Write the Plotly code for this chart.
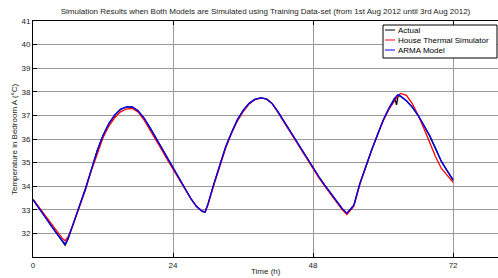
import plotly.graph_objects as go

hours = [0, 1, 2, 3, 4, 5, 5.5, 6, 7, 8, 9, 10, 11, 12, 13, 14, 15, 16, 17, 18, 19, 20,
         21, 22, 23, 24, 25, 26, 27, 28, 29, 29.5, 30, 31, 32, 33, 34, 35, 36, 37, 38, 39,
         40, 41, 42, 43, 44, 45, 46, 47, 48, 49, 50, 51, 52, 53, 53.8, 55, 56, 57, 58, 59,
         60, 61, 62, 62.3, 62.6, 63, 64, 65, 66, 67, 68, 69, 70, 71, 72]

actual = [33.43, 33.07, 32.72, 32.37, 32.02, 31.68, 31.50, 31.75, 32.45, 33.20, 33.90, 34.70,
          35.50, 36.15, 36.65, 37.00, 37.25, 37.35, 37.36, 37.20, 36.90, 36.50,
          36.08, 35.65, 35.20, 34.80, 34.35, 33.92, 33.50, 33.15, 32.93, 32.90, 33.25, 34.10,
          34.90, 35.65, 36.25, 36.80, 37.20, 37.50, 37.68, 37.74,
          37.70, 37.50, 37.15, 36.75, 36.35, 35.95, 35.55, 35.15, 34.75, 34.40, 34.05, 33.72,
          33.40, 33.05, 32.85, 33.20, 34.10, 34.85, 35.50, 36.15,
          36.78, 37.30, 37.75, 37.45, 37.85, 37.80, 37.62, 37.35, 37.00, 36.58, 36.12, 35.58,
          35.05, 34.65, 34.25]

simulator = [33.45, 33.12, 32.78, 32.45, 32.12, 31.80, 31.69, 31.85, 32.45, 33.15, 33.85, 34.65,
             35.40, 36.05, 36.55, 36.90, 37.15, 37.27, 37.30, 37.15, 36.82, 36.42,
             36.00, 35.57, 35.13, 34.72, 34.30, 33.88, 33.48, 33.15, 32.95, 32.92, 33.22, 34.05,
             34.85, 35.60, 36.22, 36.75, 37.15, 37.47, 37.66, 37.73,
             37.70, 37.50, 37.12, 36.72, 36.30, 35.90, 35.50, 35.10, 34.70, 34.35, 34.00, 33.65,
             33.32, 33.00, 32.80, 33.15, 34.05, 34.80, 35.50, 36.15,
             36.75, 37.25, 37.65, 37.75, 37.85, 37.93, 37.85, 37.50, 37.02, 36.45, 35.85, 35.25,
             34.75, 34.45, 34.16]

arma = [33.43, 33.06, 32.71, 32.36, 32.01, 31.68, 31.55, 31.78, 32.47, 33.20, 33.90, 34.70,
        35.50, 36.15, 36.65, 37.02, 37.27, 37.36, 37.36, 37.20, 36.90, 36.50,
        36.08, 35.65, 35.20, 34.80, 34.35, 33.92, 33.50, 33.15, 32.93, 32.91, 33.25, 34.10,
        34.90, 35.65, 36.25, 36.80, 37.20, 37.50, 37.68, 37.74,
        37.70, 37.50, 37.15, 36.75, 36.35, 35.95, 35.55, 35.15, 34.75, 34.40, 34.05, 33.72,
        33.40, 33.05, 32.86, 33.20, 34.10, 34.85, 35.50, 36.15,
        36.78, 37.30, 37.72, 37.82, 37.88, 37.82, 37.62, 37.35, 37.00, 36.60, 36.15, 35.62,
        35.05, 34.65, 34.28]

series_names = ["Actual", "House Thermal Simulator", "ARMA Model"]
series_colors = ["black", "#ff0000", "#0000ff"]

x_ticks = [0, 24, 48, 72]
y_ticks = [32, 33, 34, 35, 36, 37, 38, 39, 40, 41]

font_family = "Liberation Sans, Arial, sans-serif"
text_color = "#222222"

W, H = 498, 278
ML, MR, MT, MB = 33, 0, 21, 21
PW, PH = W - ML - MR, H - MT - MB


def px_to_paper_x(px):
    return (px - ML) / PW


def px_to_paper_y(py):
    return (H - MB - py) / PH


fig = go.Figure()
for name, values, color in zip(series_names, [actual, simulator, arma], series_colors):
    fig.add_trace(go.Scatter(x=hours, y=values, mode="lines", name=name,
                             line=dict(color=color, width=1.3), showlegend=False))

# Legend drawn in the MATLAB style (compact box, short line samples)
shapes = [dict(type="rect", xref="paper", yref="paper",
               x0=px_to_paper_x(383), x1=px_to_paper_x(497),
               y0=px_to_paper_y(58), y1=px_to_paper_y(25),
               line=dict(color="black", width=1), fillcolor="white", layer="above")]
annotations = []
row_px = [30, 40, 50]
for name, color, ry in zip(series_names, series_colors, row_px):
    shapes.append(dict(type="line", xref="paper", yref="paper",
                       x0=px_to_paper_x(385), x1=px_to_paper_x(395),
                       y0=px_to_paper_y(ry), y1=px_to_paper_y(ry),
                       line=dict(color=color, width=1), layer="above"))
    annotations.append(dict(text=name, xref="paper", yref="paper",
                            x=px_to_paper_x(396), y=px_to_paper_y(ry),
                            xanchor="left", yanchor="middle", showarrow=False,
                            font=dict(family=font_family, size=8, color="black")))

annotations.append(dict(text="Time (h)", xref="paper", yref="paper",
                        x=0.5, y=px_to_paper_y(271.5), xanchor="center", yanchor="middle",
                        showarrow=False, font=dict(family=font_family, size=8, color=text_color)))
annotations.append(dict(text="Temperature in Bedroom A (°C)", xref="paper", yref="paper",
                        x=px_to_paper_x(14), y=0.5, xanchor="center", yanchor="middle",
                        textangle=-90, showarrow=False,
                        font=dict(family=font_family, size=8, color=text_color)))

fig.update_layout(
    width=W, height=H,
    margin=dict(l=ML, r=MR, t=MT, b=MB, autoexpand=False),
    paper_bgcolor="white", plot_bgcolor="white",
    font=dict(family=font_family, size=8, color=text_color),
    title=dict(text="Simulation Results when Both Models are Simulated using Training Data-set (from 1st Aug 2012 until 3rd Aug 2012)",
               x=0.5, xref="paper", xanchor="center", y=1 - 11.5 / H, yref="container", yanchor="middle",
               font=dict(family=font_family, size=8, color=text_color)),
    showlegend=False,
    shapes=shapes,
    annotations=annotations,
    xaxis=dict(range=[0, 79.7], tickvals=x_ticks, ticktext=[str(v) for v in x_ticks],
               showgrid=True, gridcolor="#9a9a9a", gridwidth=1,
               showline=True, linecolor="black", linewidth=1, mirror="ticks",
               ticks="inside", ticklen=4, tickcolor="black", zeroline=False,
               automargin=False, tickfont=dict(size=8)),
    yaxis=dict(range=[31, 41], tickvals=y_ticks, ticktext=[str(v) for v in y_ticks],
               showgrid=True, gridcolor="#9a9a9a", gridwidth=1,
               showline=True, linecolor="black", linewidth=1, mirror=False,
               ticks="inside", ticklen=4, tickcolor="black", zeroline=False,
               automargin=False, tickfont=dict(size=8)),
)

fig.write_html("out.html", config={"displayModeBar": False},
               post_script="document.body.style.margin='0px';document.body.style.overflow='hidden';")
